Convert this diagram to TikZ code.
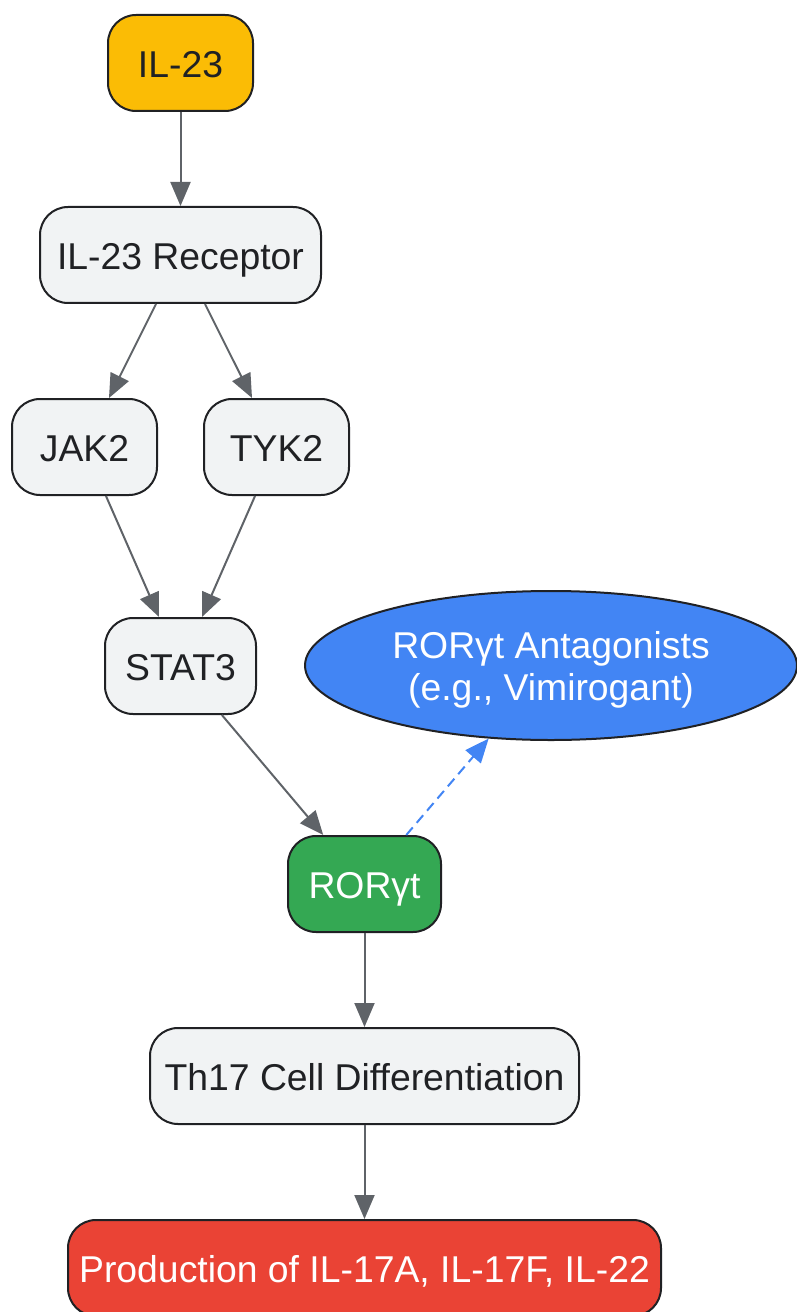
\documentclass[tikz,border=0pt]{standalone}
\usepackage{fontspec}
\setmainfont{Liberation Sans}
\usetikzlibrary{shapes.geometric,arrows.meta}

\definecolor{cytoyellow}{HTML}{FBBC05}
\definecolor{rorgreen}{HTML}{34A853}
\definecolor{prodred}{HTML}{EA4335}
\definecolor{drugblue}{HTML}{4285F4}
\definecolor{boxgray}{HTML}{F1F3F4}
\definecolor{edgegray}{HTML}{5F6368}
\definecolor{inkdark}{HTML}{202124}

\tikzset{every picture/.style={line width=0.75pt}}

\begin{document}
\begin{tikzpicture}[x=0.75pt,y=0.75pt,yscale=-1,xscale=1,
	box/.style={draw=inkdark, line width=1.5pt, rounded corners=21pt, fill=boxgray, text=inkdark,
		minimum height=72pt, inner sep=0pt, text height=21.5pt, text depth=0pt,
		font=\fontsize{28}{31.5}\selectfont},
	link/.style={draw=edgegray, line width=1.5pt, -{Triangle[length=18pt,width=15pt]}},
	]
	\useasboundingbox (0,0) rectangle (796,1312);
	
	% Nodes
	\node [box, fill=cytoyellow, minimum width=108.75pt] (il23) at (180.5,63) {IL-23};
	\node [box, minimum width=210.75pt] (rec) at (180.5,255) {IL-23 Receptor};
	\node [box, minimum width=108.75pt] (jak) at (84.5,447) {JAK2};
	\node [box, minimum width=108.75pt] (tyk) at (276.5,447) {TYK2};
	\node [box, minimum width=113.25pt] (stat) at (180.5,666) {STAT3};
	\node [ellipse, draw=inkdark, line width=1.5pt, fill=drugblue, text=white, inner sep=0pt,
		minimum width=369pt, minimum height=111.75pt, align=center, text height=53pt, text depth=0pt,
		font=\fontsize{28}{31.5}\selectfont] (drug) at (551,665.5) {RORγt Antagonists\\(e.g., Vimirogant)};
	\node [box, fill=rorgreen, text=white, minimum width=114.75pt] (ror) at (364.5,884) {RORγt};
	\node [box, minimum width=321.75pt] (th17) at (364.5,1076) {Th17 Cell Differentiation};
	\node [box, fill=prodred, text=white, minimum width=444.75pt] (prod) at (364.5,1268) {Production of IL-17A, IL-17F, IL-22};
	
	% Connectors
	\draw [link] (il23) -- (rec);
	\draw [link] (rec) -- (jak);
	\draw [link] (rec) -- (tyk);
	\draw [link] (jak) -- (stat);
	\draw [link] (tyk) -- (stat);
	\draw [link] (stat) -- (ror);
	\draw [link, draw=drugblue, dash pattern=on 7.5pt off 4.5pt, -{Triangle[length=18pt,width=15pt,fill=drugblue]}] (ror) -- (drug);
	\draw [link] (ror) -- (th17);
	\draw [link] (th17) -- (prod);
	
\end{tikzpicture}
\end{document}
